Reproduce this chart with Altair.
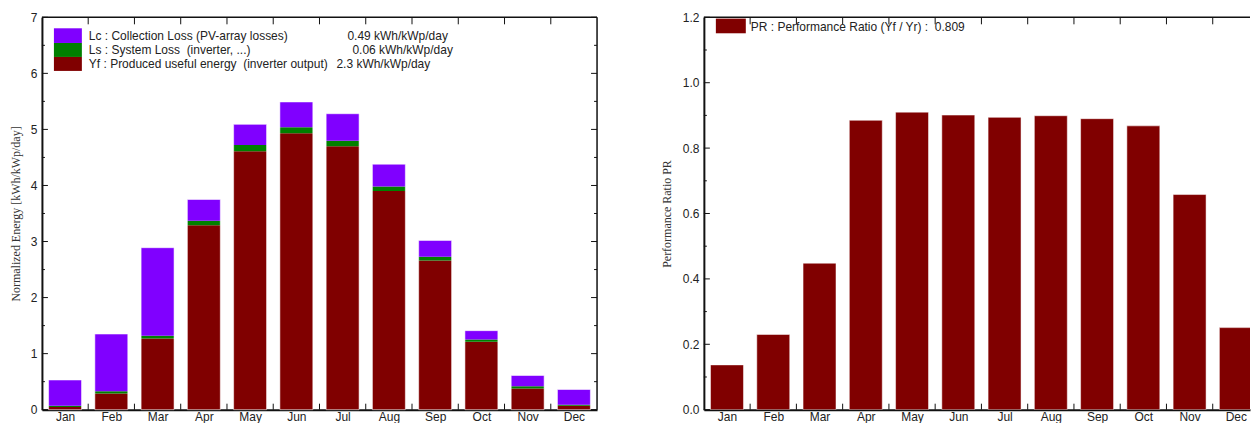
import altair as alt
import pandas as pd

# Monthly normalized energies (kWh/kWp/day) and performance ratio
months = ["Jan", "Feb", "Mar", "Apr", "May", "Jun", "Jul", "Aug", "Sep", "Oct", "Nov", "Dec"]
yf = [0.05, 0.29, 1.27, 3.29, 4.61, 4.93, 4.70, 3.90, 2.66, 1.21, 0.38, 0.07]
ls = [0.02, 0.04, 0.05, 0.08, 0.11, 0.11, 0.10, 0.08, 0.07, 0.04, 0.04, 0.02]
lc = [0.46, 1.02, 1.57, 0.38, 0.37, 0.45, 0.48, 0.40, 0.29, 0.16, 0.19, 0.27]
pr = [0.137, 0.230, 0.448, 0.885, 0.910, 0.901, 0.894, 0.899, 0.890, 0.868, 0.658, 0.251]

parts = ["Lc", "Ls", "Yf"]
part_colors = ["#8000FF", "#008000", "#800000"]
legend_labels = [
    "Lc : Collection Loss (PV-array losses)",
    "Ls : System Loss \u00a0(inverter, ...)",
    "Yf : Produced useful energy \u00a0(inverter output)",
]
legend_values = ["0.49 kWh/kWp/day", "0.06 kWh/kWp/day", "2.3 kWh/kWp/day"]
pr_label = "PR : Performance Ratio (Yf / Yr) : \u00a00.809"

energy_ticks = [0, 1, 2, 3, 4, 5, 6, 7]
energy_minor = [0.5, 1.5, 2.5, 3.5, 4.5, 5.5, 6.5]
pr_ticks = [0.0, 0.2, 0.4, 0.6, 0.8, 1.0, 1.2]
pr_minor = [0.1, 0.3, 0.5, 0.7, 0.9, 1.1]

# Layout
SANS = "Liberation Sans"
SERIF = "Liberation Serif"
INK = "#111111"
TXT = "#222222"
W1, W2, H = 556, 547, 393
SPAN = 556          # full width of the twelve month slots
BAR_W = 33
MAJOR, MINOR, XTICK = 6, 3, 6

n = len(months)
slots = [i + 0.5 for i in range(n)]          # centre of each month slot
bounds = list(range(1, n))                   # slot boundaries between months

rows = []
for i, m in enumerate(months):
    rows.append({"slot": slots[i], "part": "Yf", "value": yf[i], "k": 0})
    rows.append({"slot": slots[i], "part": "Ls", "value": ls[i], "k": 1})
    rows.append({"slot": slots[i], "part": "Lc", "value": lc[i], "k": 2})
df_energy = pd.DataFrame(rows)
df_pr = pd.DataFrame({"slot": slots, "pr": pr})
df_bounds = pd.DataFrame({"b": bounds})
one_row = pd.DataFrame({"c": [0]})

month_expr = "[" + ",".join("'%s'" % m for m in months) + "][floor(datum.value)]"

X_AXIS = alt.Axis(orient="bottom", title=None, values=slots, labelExpr=month_expr,
                  labelFlush=False, labelOverlap=False, labelAngle=0, labelPadding=2,
                  labelFont=SANS, labelFontSize=12, labelColor=TXT,
                  ticks=False, tickSize=0, grid=False, domainColor=INK, domainWidth=2)


def y_axis(values, fmt, title, title_pad):
    return alt.Axis(orient="left", values=values, format=fmt, ticks=False, tickSize=0,
                    labelPadding=5, labelFont=SANS, labelFontSize=12, labelColor=TXT,
                    title=title, titleFont=SERIF, titleFontSize=12, titleFontWeight="normal",
                    titleColor="#333333", titlePadding=title_pad, grid=False,
                    domainColor=INK, domainWidth=2)


def y_ticks(values, ys, yax, x0, x1):
    return alt.Chart(pd.DataFrame({"v": values})).mark_rule(color=INK, strokeWidth=1).encode(
        y=alt.Y("v:Q", scale=ys, axis=yax), x=alt.value(x0), x2=alt.value(x1))


def x_ticks(xs, y0, y1):
    return alt.Chart(df_bounds).mark_rule(color=INK, strokeWidth=1).encode(
        x=alt.X("b:Q", scale=xs, axis=X_AXIS), y=alt.value(y0), y2=alt.value(y1))


def hline(y, x1, width):
    return alt.Chart(one_row).mark_rule(color=INK, strokeWidth=width).encode(
        x=alt.value(0), x2=alt.value(x1), y=alt.value(y))


def vline(x, width):
    return alt.Chart(one_row).mark_rule(color=INK, strokeWidth=width).encode(
        x=alt.value(x), y=alt.value(0), y2=alt.value(H))


def text_layer(s, x, y):
    return alt.Chart(pd.DataFrame({"t": [s]})).mark_text(
        align="left", baseline="middle", font=SANS, fontSize=12, color=TXT
    ).encode(x=alt.value(x), y=alt.value(y), text="t:N")


def swatch(color, x, x2, y, y2):
    return alt.Chart(one_row).mark_rect(color=color).encode(
        x=alt.value(x), x2=alt.value(x2), y=alt.value(y), y2=alt.value(y2))


# ---- Left panel: normalized productions ----
xs1 = alt.Scale(domain=[0, n], nice=False, zero=False, padding=0)
ys1 = alt.Scale(domain=[0, 7], nice=False, zero=True)
yax1 = y_axis(energy_ticks, "d", "Normalized Energy [kWh/kWp/day]", 8)

bars1 = alt.Chart(df_energy).mark_bar(size=BAR_W).encode(
    x=alt.X("slot:Q", scale=xs1, axis=X_AXIS),
    y=alt.Y("value:Q", stack="zero", scale=ys1, axis=yax1),
    color=alt.Color("part:N", scale=alt.Scale(domain=parts, range=part_colors), legend=None),
    order=alt.Order("k:Q"),
)
outline1 = alt.Chart(df_energy).mark_bar(
    size=BAR_W, fillOpacity=0, stroke="white", strokeOpacity=0.55, strokeWidth=1
).encode(
    x=alt.X("slot:Q", scale=xs1, axis=X_AXIS),
    y=alt.Y("sum(value):Q", scale=ys1, axis=yax1),
)

left = alt.layer(
    bars1, outline1,
    x_ticks(xs1, H - XTICK, H), x_ticks(xs1, 0, XTICK + 1),
    y_ticks(energy_ticks, ys1, yax1, 0, MAJOR), y_ticks(energy_minor, ys1, yax1, 0, MINOR),
    y_ticks(energy_ticks, ys1, yax1, W1 - MAJOR, W1),
    y_ticks(energy_minor, ys1, yax1, W1 - MINOR, W1),
    hline(0, W1, 1.5), vline(W1, 1.5),
    swatch(part_colors[0], 12, 40, 11, 25.7),
    swatch(part_colors[1], 12, 40, 25.7, 39.7),
    swatch(part_colors[2], 12, 40, 39.7, 53.7),
    text_layer(legend_labels[0], 47, 19),
    text_layer(legend_labels[1], 47, 33),
    text_layer(legend_labels[2], 47, 47),
    text_layer(legend_values[0], 306, 19),
    text_layer(legend_values[1], 311, 33),
    text_layer(legend_values[2], 295, 47),
).properties(width=W1, height=H)

# ---- Right panel: performance ratio (its right end runs past the view) ----
xs2 = alt.Scale(domain=[0, n * W2 / SPAN], nice=False, zero=False, padding=0)
ys2 = alt.Scale(domain=[0, 1.2], nice=False, zero=True)
yax2 = y_axis(pr_ticks, ".1f", "Performance Ratio PR", 9)

bars2 = alt.Chart(df_pr).mark_bar(
    size=BAR_W, color="#800000", stroke="white", strokeOpacity=0.5, strokeWidth=1, clip=True
).encode(
    x=alt.X("slot:Q", scale=xs2, axis=X_AXIS),
    y=alt.Y("pr:Q", scale=ys2, axis=yax2),
)

right = alt.layer(
    bars2,
    x_ticks(xs2, H - XTICK, H), x_ticks(xs2, 0, XTICK + 1),
    y_ticks(pr_ticks, ys2, yax2, 0, MAJOR), y_ticks(pr_minor, ys2, yax2, 0, MINOR),
    hline(0, W2, 1.5),
    swatch("#800000", 12, 42, 1.3, 16),
    text_layer(pr_label, 47, 10),
).properties(width=W2, height=H)

chart = alt.hconcat(left, right, spacing=62).properties(
    padding={"left": 9, "top": 11, "right": 0, "bottom": 0},
    background="white",
).configure_view(stroke=None)

chart.save("out.html", embed_options={"renderer": "svg", "actions": False})
